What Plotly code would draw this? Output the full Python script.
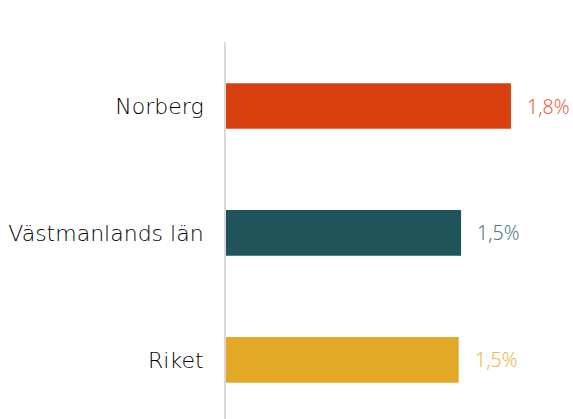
import plotly.graph_objects as go

categories = ["Norberg", "Västmanlands län", "Riket"]
values = [1.80, 1.485, 1.47]
bar_colors = ["#d84010", "#1f545b", "#e3a826"]
text_colors = ["#e0653e", "#4f7b81", "#ebb84a"]
labels = [f"{v:.1f}".replace(".", ",") + "%" for v in values]

CAT_FONT = "DejaVu Sans"
VAL_FONT = "Noto Sans"

fig = go.Figure()
fig.add_trace(go.Bar(
    x=values, y=categories, orientation="h",
    marker=dict(color=bar_colors, line=dict(width=0)),
    width=0.36, hoverinfo="skip",
))

for c, v, t, col in zip(categories, values, labels, text_colors):
    fig.add_annotation(x=v, y=c, text=t, showarrow=False, xanchor="left",
                       xshift=14, font=dict(family=VAL_FONT, size=19.5, color=col, weight=300))

fig.update_layout(
    width=573, height=419,
    margin=dict(l=226, r=0, t=42, b=0),
    paper_bgcolor="white", plot_bgcolor="white",
    showlegend=False,
    xaxis=dict(range=[0, 347/158.3], visible=False, fixedrange=True),
    yaxis=dict(
        type="category", range=[2.465, -0.504],
        showline=True, linecolor="#d9d9d9", linewidth=2,
        showgrid=False, zeroline=False, ticks="",
        ticklabelstandoff=16, fixedrange=True,
        tickfont=dict(family=CAT_FONT, size=22, color="#000000", weight=200),
    ),
)

fig.write_html(
    "out.html",
    config={"displayModeBar": False, "staticPlot": True},
    post_script="document.body.style.margin='0';document.documentElement.style.overflow='hidden';document.body.style.overflow='hidden';",
)
